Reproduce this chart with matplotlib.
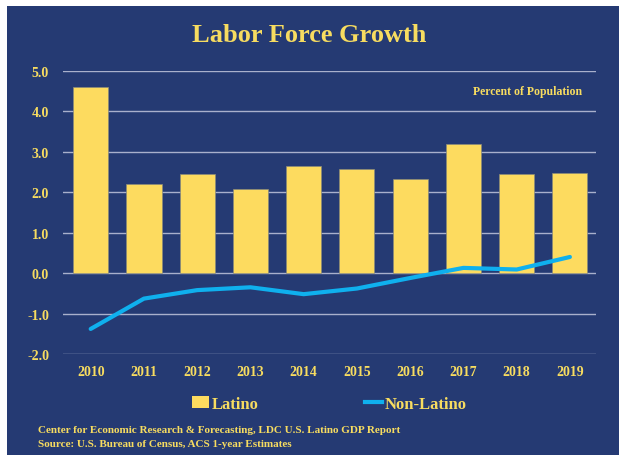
import matplotlib
matplotlib.use('Agg')
import matplotlib.pyplot as plt
from matplotlib.patches import Rectangle
from matplotlib.lines import Line2D
import numpy as np

years = ['2010', '2011', '2012', '2013', '2014', '2015', '2016', '2017', '2018', '2019']
latino = [4.6, 2.2, 2.45, 2.07, 2.65, 2.57, 2.32, 3.2, 2.44, 2.48]
non_latino = [-1.38, -0.63, -0.42, -0.35, -0.52, -0.38, -0.12, 0.13, 0.09, 0.4]

BG = '#253a73'
GOLD = '#fddb5f'
TEXT = '#f7dc60'
CYAN = '#0fb0ee'
FONT = 'Liberation Serif'

fig = plt.figure(figsize=(6.19, 4.56), dpi=100)
fig.patch.set_facecolor('white')
# dark blue panel with a thin white margin on the top and left
panel = Rectangle((7 / 619, -0.01), 1.0, 1.01 - 7 / 456,
                  transform=fig.transFigure, facecolor=BG,
                  edgecolor='none', zorder=-10)
fig.add_artist(panel)

ax = fig.add_axes([63 / 619, 1 - 355 / 456, 533 / 619, 283 / 456])
ax.set_zorder(5)
ax.set_facecolor('none')

x = np.arange(len(years))
ax.bar(x, latino, width=0.66, color=GOLD, edgecolor='#8a8a7a', linewidth=0.5, zorder=2)
ax.plot(x, non_latino, color=CYAN, linewidth=3, solid_capstyle='round', zorder=3)

ax.set_xlim(-0.52, 9.49)
ax.set_ylim(-2.0, 5.0)
ax.set_yticks(np.arange(-2, 6, 1))
ax.set_yticklabels([f'{v:.1f}' for v in np.arange(-2, 6, 1)])
ax.set_xticks(x)
ax.set_xticklabels(years)
ax.yaxis.grid(True, color='#a9b0cc', linewidth=1.0, zorder=1)
ax.set_axisbelow(True)
for s in ax.spines.values():
    s.set_visible(False)
ax.tick_params(length=0, pad=8, colors=TEXT)
for lab in ax.get_xticklabels() + ax.get_yticklabels():
    lab.set_fontfamily(FONT)
    lab.set_fontweight('bold')
    lab.set_fontsize(10)
    lab.set_color(TEXT)
ax.tick_params(axis='y', pad=10)

fig.text(0.5, 1 - 35 / 456, 'Labor Force Growth', ha='center', va='center',
         fontsize=19, fontweight='bold', color=TEXT, family=FONT)
ax.text(0.872, 0.929, 'Percent of Population', transform=ax.transAxes, ha='center',
        va='center', fontsize=8.5, fontweight='bold', color=TEXT, family=FONT)

handles = [Rectangle((0, 0), 1, 1, facecolor=GOLD, edgecolor='none'),
           Line2D([0], [0], color=CYAN, linewidth=3)]
fig.legend(handles, ['Latino', 'Non-Latino'], loc='center',
           bbox_to_anchor=(0.532, 1 - 405 / 456), ncol=2, frameon=False,
           columnspacing=6.4, handlelength=1.0, handletextpad=0.15,
           prop={'family': FONT, 'weight': 'bold', 'size': 12}, labelcolor=TEXT)

fig.text(38 / 619, 1 - 431 / 456, 'Center for Economic Research & Forecasting, LDC U.S. Latino GDP Report',
         ha='left', va='center', fontsize=8, fontweight='bold', color=TEXT, family=FONT)
fig.text(38 / 619, 1 - 445 / 456, 'Source: U.S. Bureau of Census, ACS 1-year Estimates',
         ha='left', va='center', fontsize=8, fontweight='bold', color=TEXT, family=FONT)

fig.savefig('out.png', dpi=100)
